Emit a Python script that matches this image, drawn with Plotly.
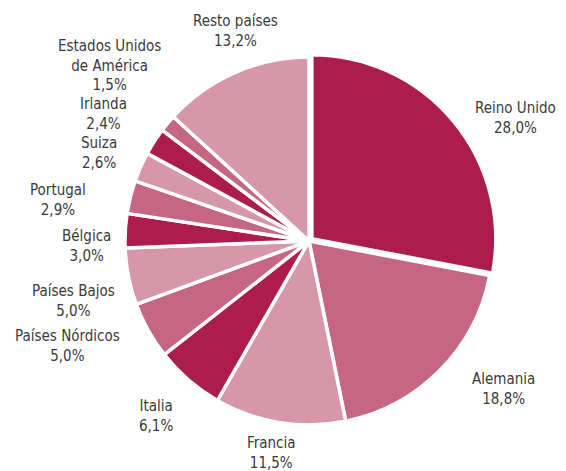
import plotly.graph_objects as go

labels = ["Reino Unido", "Alemania", "Francia", "Italia", "Países Nórdicos",
          "Países Bajos", "Bélgica", "Portugal", "Suiza", "Irlanda",
          "Estados Unidos<br>de América", "Resto países"]
values = [28.0, 18.8, 11.5, 6.1, 5.0, 5.0, 3.0, 2.9, 2.6, 2.4, 1.5, 13.2]

# label text-block centres (layout, in pixels of the page)
label_px = [(515, 118), (503, 389), (271, 453), (156, 416), (67, 346),
            (73, 301), (86, 246), (58, 200), (99, 153), (103, 114),
            (109, 66), (235, 31)]

W, H, OFF = 566, 471, 8
dark, mid, light = "#AC1C4D", "#C56784", "#D697AA"
colors = [dark, mid, light] * 4
pulls = [0.02] + [0] * 11

R = 184 * 1.02
cx, cy = 309 - OFF, 241 - OFF
fig = go.Figure(go.Pie(
    labels=labels, values=values, sort=False, direction="clockwise", rotation=0,
    marker=dict(colors=colors, line=dict(color="white", width=3.5)),
    pull=pulls, textinfo="none",
    domain=dict(x=[(cx - R) / W, (cx + R) / W],
                y=[(H - cy - R) / H, (H - cy + R) / H]),
    showlegend=False, hoverinfo="skip",
))

font = dict(family="DejaVu Sans Condensed, DejaVu Sans", size=15, color="#3a3a3a")
for lab, val, (px, py) in zip(labels, values, label_px):
    fig.add_annotation(
        x=(px - OFF) / W, y=1 - (py - OFF) / H, xref="paper", yref="paper",
        text=f"{lab}<br>{val:.1f}%".replace(".", ","),
        showarrow=False, xanchor="center", yanchor="middle", font=font,
    )

fig.update_layout(width=W, height=H, margin=dict(l=0, r=0, t=0, b=0),
                  paper_bgcolor="white", plot_bgcolor="white")
fig.write_html("out.html")
